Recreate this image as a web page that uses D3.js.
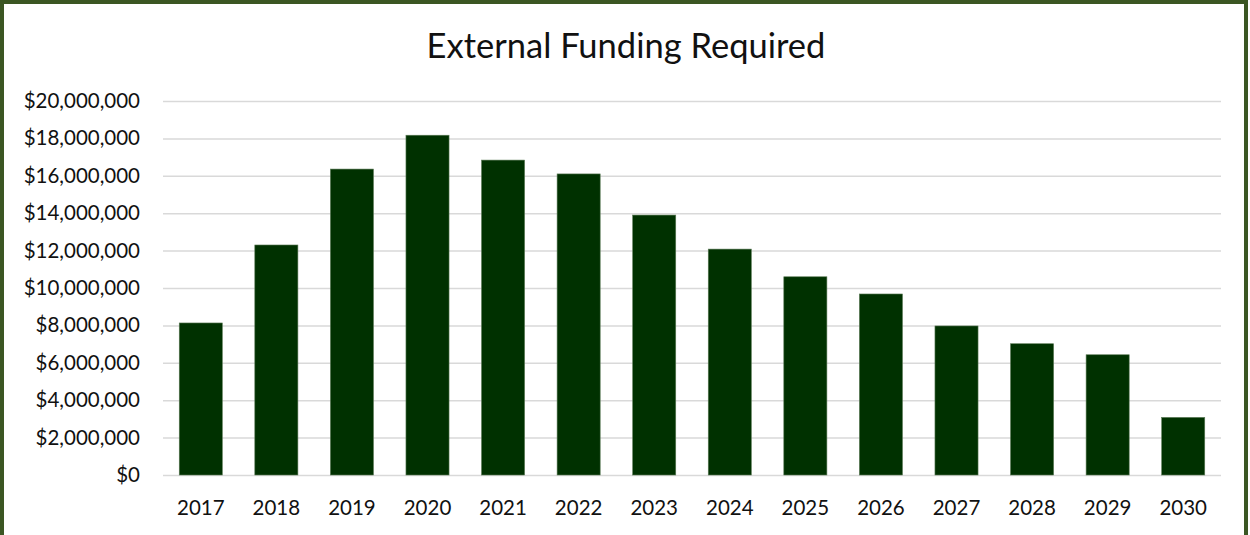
<!DOCTYPE html>
<html>
<head>
<meta charset="utf-8">
<script src="https://cdn.jsdelivr.net/npm/d3@7"></script>
<style>
  html, body { margin: 0; padding: 0; background: #fff; }
  svg { display: block; }
</style>
</head>
<body>
<div id="chart"></div>
<script>
// years along the bottom
var years = ["2017", "2018", "2019", "2020", "2021", "2022", "2023",
             "2024", "2025", "2026", "2027", "2028", "2029", "2030"];

// external funding required, dollars
var funding = [8130000, 12300000, 16360000, 18170000, 16840000, 16100000, 13900000,
               12080000, 10600000, 9680000, 7970000, 7020000, 6430000, 3080000];

var yTicks = [0, 2000000, 4000000, 6000000, 8000000, 10000000,
              12000000, 14000000, 16000000, 18000000, 20000000];

var W = 1250, H = 535;
var margin = {top: 101, right: 29, bottom: 60, left: 163};

var svg = d3.select("#chart").append("svg")
    .attr("width", W)
    .attr("height", H);

// outer frame
svg.append("rect")
    .attr("x", 2).attr("y", 2)
    .attr("width", W - 6).attr("height", H + 10)
    .attr("fill", "#fff")
    .attr("stroke", "#3b5623")
    .attr("stroke-width", 4);

svg.append("text")
    .attr("x", 626).attr("y", 58)
    .attr("text-anchor", "middle")
    .attr("font-family", "Lato, 'Open Sans', sans-serif")
    .attr("font-size", "34.5px")
    .attr("fill", "#111")
    .text("External Funding Required");

var x = d3.scaleBand()
    .domain(years)
    .range([margin.left, W - margin.right])
    .paddingInner(0.43)
    .paddingOuter(0.215);

var y = d3.scaleLinear()
    .domain([0, 20000000])
    .range([H - margin.bottom, margin.top]);

// gridlines
svg.append("g").selectAll("line")
    .data(yTicks)
    .enter().append("line")
    .attr("x1", margin.left)
    .attr("x2", W - margin.right)
    .attr("y1", function (d) { return y(d) + 0.5; })
    .attr("y2", function (d) { return y(d) + 0.5; })
    .attr("stroke", "#d9d9d9")
    .attr("stroke-width", 1.5);

var fmt = d3.format("$,");

var yAxis = svg.append("g")
    .attr("transform", "translate(" + margin.left + ",0)")
    .call(d3.axisLeft(y).tickValues(yTicks).tickFormat(fmt).tickSize(0).tickPadding(23));
yAxis.select(".domain").remove();
yAxis.selectAll("text")
    .attr("font-family", "Lato, 'Open Sans', sans-serif")
    .attr("font-size", "20.5px")
    .attr("fill", "#111");

// bars
svg.append("g").selectAll("rect")
    .data(funding)
    .enter().append("rect")
    .attr("x", function (d, i) { return x(years[i]); })
    .attr("y", function (d) { return y(d); })
    .attr("width", x.bandwidth())
    .attr("height", function (d) { return y(0) - y(d); })
    .attr("fill", "#003100")
    .attr("stroke", "#5a7a55")
    .attr("stroke-width", 0.6);

var xAxis = svg.append("g")
    .attr("transform", "translate(0," + y(0) + ")")
    .call(d3.axisBottom(x).tickSize(0).tickPadding(25));
xAxis.select(".domain").remove();
xAxis.selectAll("text")
    .attr("font-family", "Lato, 'Open Sans', sans-serif")
    .attr("font-size", "20.5px")
    .attr("fill", "#111");
</script>
</body>
</html>
